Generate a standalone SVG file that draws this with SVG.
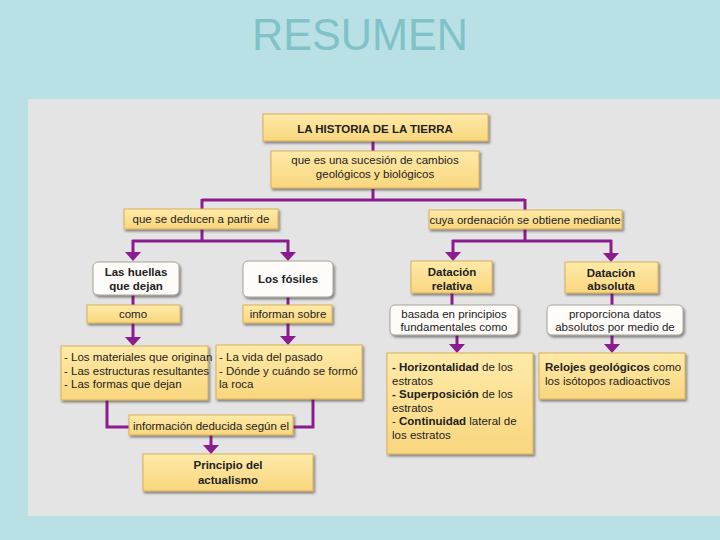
<svg xmlns="http://www.w3.org/2000/svg" width="720" height="540" viewBox="0 0 720 540">
<style>
.y{fill:url(#gy);stroke:#d9b05a;stroke-width:1;filter:url(#sh)}
.w{fill:#fdfcf9;stroke:#a9a49a;stroke-width:1;filter:url(#sh)}
.t{font-family:"Liberation Sans",Arial,sans-serif;font-size:11.5px;fill:#222}
.c{text-anchor:middle}
.b{font-weight:bold}
.ln{fill:none;stroke:#8b1c8e;stroke-width:3}
.ar{marker-end:url(#ah)}
</style>
<defs>
<linearGradient id="gy" x1="0" y1="0" x2="0" y2="1">
<stop offset="0" stop-color="#feeaa8"/>
<stop offset="1" stop-color="#f9d67e"/>
</linearGradient>
<filter id="sh" x="-10%" y="-20%" width="125%" height="150%">
<feDropShadow dx="1.5" dy="2" stdDeviation="1" flood-color="#333" flood-opacity="0.55"/>
</filter>
<marker id="ah" markerUnits="userSpaceOnUse" markerWidth="20" markerHeight="20" viewBox="0 -10 12 20" refX="0" refY="0" orient="auto">
<path d="M0,-8 L9,0 L0,8 Z" fill="#8b1c8e"/>
</marker>
</defs>
<rect x="0" y="0" width="720" height="540" fill="#b9e0e4"/>
<text x="360" y="50" font-family="Liberation Sans,Arial,sans-serif" font-size="45" fill="#7fc3c8" text-anchor="middle" textLength="216" lengthAdjust="spacingAndGlyphs">RESUMEN</text>
<rect x="28" y="99" width="692" height="417" fill="#e4e4e4"/>

<g id="connectors">
<path class="ln" d="M373,141 V151"/>
<path class="ln" d="M373,189 V200 M202,200 H525 M202,199 V209 M525,199 V210"/>
<path class="ln" d="M202,229 V241 M132,241 H289"/>
<path class="ln ar" d="M133,240 V252"/>
<path class="ln ar" d="M288,240 V252"/>
<path class="ln" d="M133,295 V305"/>
<path class="ln ar" d="M133,323 V337"/>
<path class="ln" d="M288,297 V305"/>
<path class="ln ar" d="M288,323 V336"/>
<path class="ln" d="M107,400 V427 H129"/>
<path class="ln" d="M313,399 V427 H293"/>
<path class="ln ar" d="M211,435 V445"/>
<path class="ln" d="M525,229 V241 M452,241 H612"/>
<path class="ln ar" d="M453,240 V252"/>
<path class="ln ar" d="M611,240 V253"/>
<path class="ln" d="M452,293 V305"/>
<path class="ln ar" d="M457,335 V344"/>
<path class="ln" d="M612,293 V305"/>
<path class="ln ar" d="M612,335 V344"/>
</g>

<g id="n1"><rect class="y" x="263" y="114" width="225" height="27"/>
<text class="t c b" x="375" y="132.5" font-size="14">LA HISTORIA DE LA TIERRA</text></g>
<g id="n2"><rect class="y" x="271" y="151" width="208" height="37"/>
<text class="t c" x="375" y="164" font-size="12">que es una sucesión de cambios</text>
<text class="t c" x="375" y="178" font-size="12">geológicos y biológicos</text></g>
<g id="n3"><rect class="y" x="124" y="209" width="154" height="20"/>
<text class="t c" x="201" y="223">que se deducen a partir de</text></g>
<g id="n4"><rect class="y" x="429" y="210" width="193" height="19"/>
<text class="t c" x="525" y="223.5">cuya ordenación se obtiene mediante</text></g>
<g id="n5"><rect class="w" x="93" y="262" width="86" height="33" rx="5"/>
<text class="t c b" x="136" y="276">Las huellas</text>
<text class="t c b" x="136" y="290">que dejan</text></g>
<g id="n6"><rect class="y" x="87" y="305" width="93" height="18"/>
<text class="t c" x="133" y="318">como</text></g>
<g id="n7"><rect class="w" x="243" y="261" width="90" height="36" rx="5"/>
<text class="t c b" x="288" y="283">Los fósiles</text></g>
<g id="n8"><rect class="y" x="243" y="305" width="89" height="18"/>
<text class="t c" x="288" y="318">informan sobre</text></g>
<g id="n9"><rect class="y" x="61" y="346" width="147" height="54"/>
<text class="t" x="64" y="361" font-size="10.6">- Los materiales que originan</text>
<text class="t" x="64" y="374.5" font-size="10.6">- Las estructuras resultantes</text>
<text class="t" x="64" y="388" font-size="10.6">- Las formas que dejan</text></g>
<g id="n10"><rect class="y" x="216" y="345" width="146" height="54"/>
<text class="t" x="219" y="361" font-size="10.8">- La vida del pasado</text>
<text class="t" x="219" y="374.5" font-size="10.8">- Dónde y cuándo se formó</text>
<text class="t" x="219" y="388" font-size="10.8">la roca</text></g>
<g id="n11"><rect class="y" x="129" y="415" width="164" height="20"/>
<text class="t c" x="211" y="429.5">información deducida según el</text></g>
<g id="n12"><rect class="y" x="143" y="454" width="170" height="37"/>
<text class="t c b" x="228" y="469" font-size="12">Principio del</text>
<text class="t c b" x="228" y="484" font-size="12">actualismo</text></g>
<g id="n13"><rect class="y" x="411" y="261" width="81" height="32"/>
<text class="t c b" x="452" y="276" font-size="12">Datación</text>
<text class="t c b" x="452" y="290" font-size="12">relativa</text></g>
<g id="n14"><rect class="w" x="390" y="305" width="128" height="30" rx="5"/>
<text class="t c" x="454" y="318">basada en principios</text>
<text class="t c" x="454" y="331">fundamentales como</text></g>
<g id="n15"><rect class="y" x="565" y="262" width="93" height="31"/>
<text class="t c b" x="611" y="277" font-size="12">Datación</text>
<text class="t c b" x="611" y="290" font-size="12">absoluta</text></g>
<g id="n16"><rect class="w" x="547" y="305" width="136" height="30" rx="5"/>
<text class="t c" x="615" y="318">proporciona datos</text>
<text class="t c" x="615" y="331">absolutos por medio de</text></g>
<g id="n17"><rect class="y" x="387" y="353" width="146" height="101"/>
<text class="t" x="392" y="371" font-size="11"><tspan class="b">- Horizontalidad</tspan> de los</text>
<text class="t" x="392" y="384.5" font-size="11">estratos</text>
<text class="t" x="392" y="398" font-size="11"><tspan class="b">- Superposición</tspan> de los</text>
<text class="t" x="392" y="411.5" font-size="11">estratos</text>
<text class="t" x="392" y="425" font-size="11">- <tspan class="b">Continuidad</tspan> lateral de</text>
<text class="t" x="392" y="438.5" font-size="11">los estratos</text></g>
<g id="n18"><rect class="y" x="539" y="353" width="146" height="46"/>
<text class="t" x="545" y="371" font-size="11"><tspan class="b">Relojes geológicos</tspan> como</text>
<text class="t" x="545" y="385" font-size="11">los isótopos radioactivos</text></g>
</svg>
